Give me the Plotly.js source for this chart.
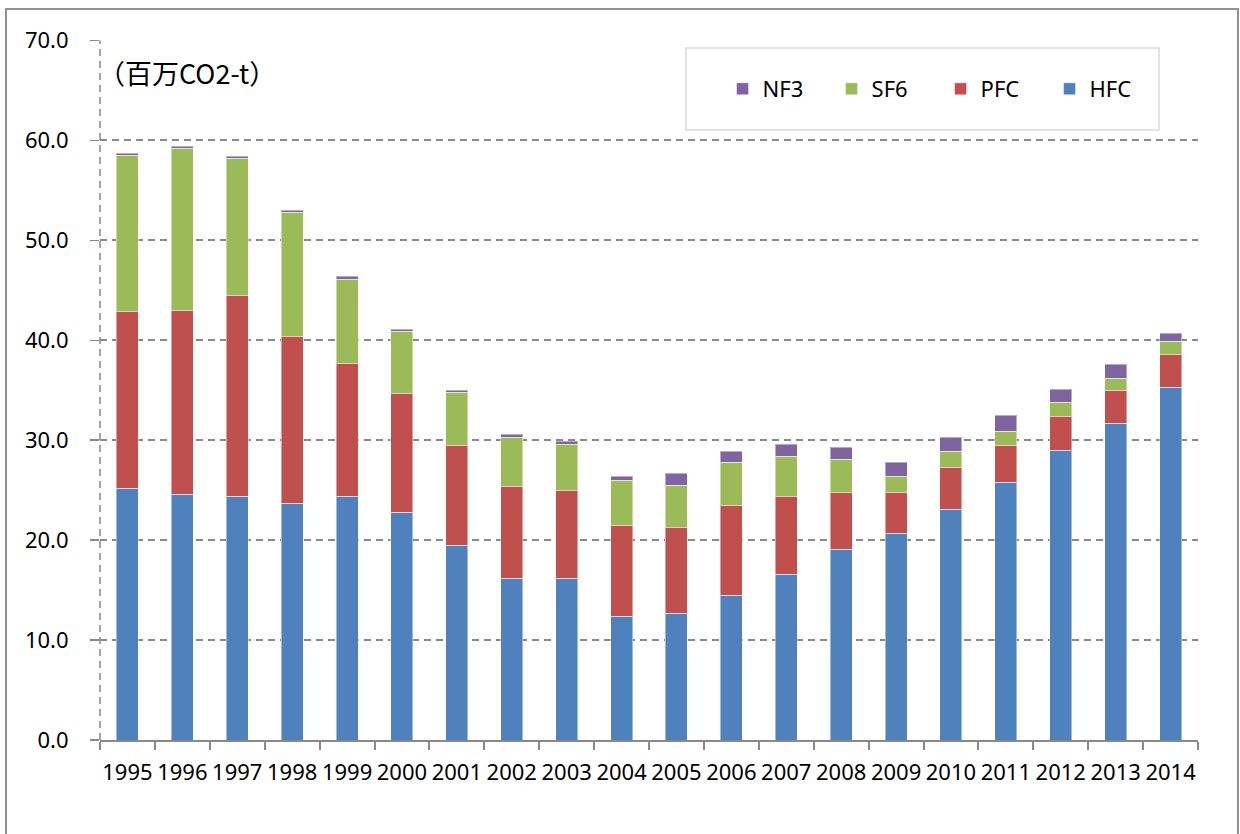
<!DOCTYPE html>
<html>
<head>
<meta charset="utf-8">
<script src="https://cdn.plot.ly/plotly-3.0.1.min.js"></script>
<style>
html,body{margin:0;padding:0;background:#fff;}
#chart{width:1240px;height:834px;}
</style>
</head>
<body>
<div id="chart"></div>
<script>
const years = ['1995','1996','1997','1998','1999','2000','2001','2002','2003','2004','2005','2006','2007','2008','2009','2010','2011','2012','2013','2014'];
const hfc = [25.2,24.6,24.4,23.7,24.4,22.8,19.5,16.2,16.2,12.4,12.7,14.5,16.6,19.1,20.7,23.1,25.8,29.0,31.7,35.3];
const pfc = [17.7,18.4,20.1,16.7,13.3,11.9,10.0,9.2,8.8,9.1,8.6,9.0,7.8,5.7,4.1,4.2,3.7,3.4,3.3,3.3];
const sf6 = [15.6,16.2,13.7,12.4,8.4,6.2,5.3,4.9,4.6,4.5,4.2,4.3,4.0,3.3,1.6,1.6,1.4,1.4,1.2,1.3];
const nf3 = [0.2,0.2,0.2,0.2,0.3,0.2,0.2,0.3,0.3,0.4,1.2,1.1,1.2,1.2,1.4,1.4,1.6,1.3,1.4,0.8];
const seriesNames = ['HFC','PFC','SF6','NF3'];
const seriesColors = ['#4F81BD','#C0504D','#9BBB59','#8064A2'];
const unitLabel = '（百万CO2-t）';

const vals = [hfc,pfc,sf6,nf3];
const traces = seriesNames.map((n,i)=>({
  type:'bar', name:n, x:years, y:vals[i],
  marker:{color:seriesColors[i], line:{color:'rgba(255,255,255,0.45)', width:1}},
  hoverinfo:'x+y+name'
}));

const grey = '#888888';
const layout = {
  width:1240, height:834,
  margin:{l:100, r:42, t:40, b:94},
  paper_bgcolor:'#fff', plot_bgcolor:'#fff',
  barmode:'stack', bargap:0.6,
  font:{family:'"Noto Sans", sans-serif', color:'#000', size:22},
  showlegend:true,
  legend:{
    orientation:'h', traceorder:'reversed',
    x:0.567, xanchor:'left', y:0.93, yanchor:'middle',
    bgcolor:'rgba(0,0,0,0)', borderwidth:0,
    font:{size:22, family:'"Noto Sans", sans-serif'},
    entrywidth:64, entrywidthmode:'pixels'
  },
  xaxis:{
    type:'category', showgrid:false, zeroline:false,
    showline:true, linecolor:grey, linewidth:2,
    ticks:'outside', tickson:'boundaries', ticklen:8, tickwidth:2, tickcolor:grey,
    tickfont:{size:22}, tickangle:0, ticklabelstandoff:12, fixedrange:true
  },
  yaxis:{
    range:[0,70.05], tickvals:[0,10,20,30,40,50,60,70], tickformat:'.1f',
    showgrid:true, gridcolor:grey, gridwidth:2, griddash:'7px,5px',
    zeroline:false, showline:false,
    ticks:'outside', ticklen:9, tickwidth:1.5, tickcolor:grey,
    tickfont:{size:22}, ticklabelstandoff:17, fixedrange:true
  },
  shapes:[
    {type:'line', xref:'paper', yref:'y', x0:0, x1:0, y0:0, y1:70,
     line:{color:grey, width:1.5, dash:'7px,5px'}},
    {type:'rect', xref:'paper', yref:'paper', x0:0.5337, x1:0.9645, y0:0.8714, y1:0.9886,
     line:{color:'#d9d9d9', width:1.5}, fillcolor:'rgba(255,255,255,0)', layer:'below'},
    {type:'path', xref:'paper', yref:'paper',
     path:'M -0.0856,-0.2 L -0.0856,1.0443 L 1.0364,1.0443 L 1.0364,-0.2',
     line:{color:'#909090', width:2}}
  ],
  annotations:[
    {xref:'paper', yref:'paper', x:0.0792, y:0.953, xanchor:'center', yanchor:'middle',
     text:unitLabel, showarrow:false,
     font:{family:'"Noto Sans CJK JP", "Noto Sans", sans-serif', size:27, color:'#000'}}
  ]
};

Plotly.newPlot('chart', traces, layout, {displayModeBar:false, staticPlot:true});
</script>
</body>
</html>
